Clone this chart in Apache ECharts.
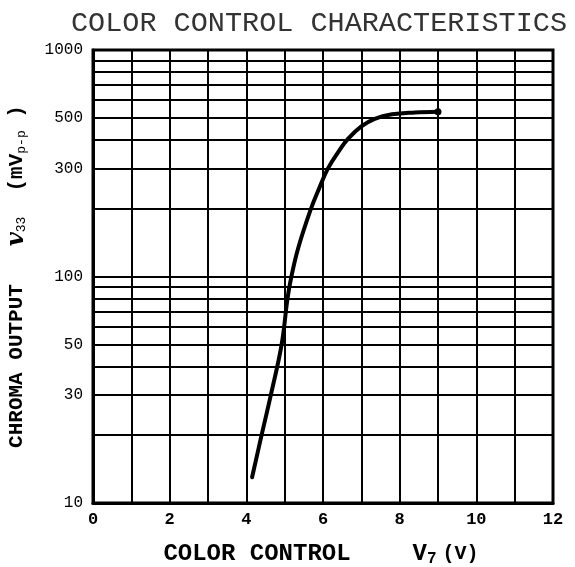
<!DOCTYPE html>
<html>
<head>
<meta charset="utf-8">
<script src="https://cdn.jsdelivr.net/npm/echarts@6/dist/echarts.min.js"></script>
<style>
  html, body { margin: 0; padding: 0; background: #fff; }
  #main { width: 575px; height: 567px; }
</style>
</head>
<body>
<div id="main"></div>
<script>
// curve: V7 (V) -> chroma output (mVp-p)
var volts  = [4.15, 4.40, 4.64, 4.92, 5.07, 5.16, 5.35, 5.69, 5.90, 6.13, 6.40, 6.65, 7.00, 7.35, 7.80, 8.40, 9.00];
var chroma = [13, 20, 30, 50, 79, 97, 133, 200, 245, 300, 355, 405, 460, 497, 520, 530, 534];

// log paper rulings and the printed tick labels
var gridVals    = [10, 20, 30, 40, 50, 60, 70, 80, 90, 100, 200, 300, 400, 500, 600, 700, 800, 900, 1000];
var yTickLabels = [10, 30, 50, 100, 300, 500, 1000];
var xTickLabels = [0, 2, 4, 6, 8, 10, 12];

var mono = 'Liberation Mono';

var points = [];
for (var i = 0; i < volts.length; i++) {
    points.push([volts[i], chroma[i]]);
}

// one markLine per horizontal ruling, label only where printed
var rulings = [];
for (var j = 0; j < gridVals.length; j++) {
    var v = gridVals[j];
    rulings.push({
        yAxis: v,
        label: { show: yTickLabels.indexOf(v) >= 0 }
    });
}

var myChart = echarts.init(document.getElementById('main'));
var option = {
    animation: false,
    backgroundColor: '#fff',
    title: {
        text: 'COLOR CONTROL CHARACTERISTICS',
        left: 66,
        top: 4,
        textStyle: {
            fontFamily: mono,
            fontWeight: 'normal',
            fontSize: 28.5,
            color: '#333'
        }
    },
    grid: {
        left: 93,
        right: 22,
        top: 50,
        bottom: 64,
        outerBoundsMode: 'none',
        show: true,
        borderColor: '#000',
        borderWidth: 3
    },
    xAxis: {
        type: 'value',
        min: 0,
        max: 12,
        interval: 1,
        name: '{t|COLOR CONTROL}{v|V}{s|7}{p|(V)}',
        nameLocation: 'middle',
        nameGap: 38,
        nameTextStyle: {
            padding: [0, 4, 0, 0],
            rich: {
                t: { fontFamily: mono, fontWeight: 'bold', fontSize: 24, color: '#000' },
                v: { fontFamily: mono, fontWeight: 'bold', fontSize: 24, color: '#000', padding: [0, 0, 0, 62] },
                s: { fontFamily: mono, fontWeight: 'bold', fontSize: 16, color: '#000', padding: [10, 0, 0, 0] },
                p: { fontFamily: mono, fontWeight: 'bold', fontSize: 20, color: '#000', padding: [0, 0, 0, 6] }
            }
        },
        axisLine: { lineStyle: { color: '#000', width: 3 } },
        axisTick: { show: false },
        axisLabel: {
            margin: 8,
            fontFamily: mono,
            fontWeight: 'bold',
            fontSize: 17,
            color: '#000',
            formatter: function (val) {
                return xTickLabels.indexOf(val) >= 0 ? String(val) : '';
            }
        },
        splitLine: { show: true, lineStyle: { color: '#000', width: 2 } }
    },
    yAxis: {
        type: 'log',
        logBase: 10,
        min: 10,
        max: 1000,
        name: '{t|CHROMA OUTPUT   }{v|v}{s|33}{t|  (mV}{s|p-p}{t| )}',
        nameLocation: 'middle',
        nameRotate: 90,
        nameGap: 64,
        nameTextStyle: {
            rich: {
                t: { fontFamily: mono, fontWeight: 'bold', fontSize: 21, color: '#000' },
                v: { fontFamily: 'DejaVu Serif', fontStyle: 'italic', fontWeight: 'bold', fontSize: 24, color: '#000' },
                s: { fontFamily: mono, fontSize: 13, color: '#000', padding: [10, 0, 0, 0] }
            }
        },
        axisLine: { lineStyle: { color: '#000', width: 3 } },
        axisTick: { show: false },
        axisLabel: { show: false },
        splitLine: { show: false }
    },
    series: [{
        type: 'line',
        data: points,
        smooth: 0.4,
        showSymbol: false,
        lineStyle: { color: '#000', width: 4, cap: 'round' },
        markLine: {
            silent: true,
            symbol: ['none', 'none'],
            lineStyle: { color: '#000', width: 2, type: 'solid' },
            label: {
                position: 'start',
                distance: 10,
                fontFamily: mono,
                fontSize: 16,
                color: '#000',
                formatter: function (p) { return String(p.value); }
            },
            data: rulings
        },
        markPoint: {
            silent: true,
            symbol: 'circle',
            symbolSize: 7,
            itemStyle: { color: '#000' },
            label: { show: false },
            data: [{ coord: [volts[volts.length - 1], chroma[chroma.length - 1]] }]
        }
    }]
};
myChart.setOption(option);
</script>
</body>
</html>
